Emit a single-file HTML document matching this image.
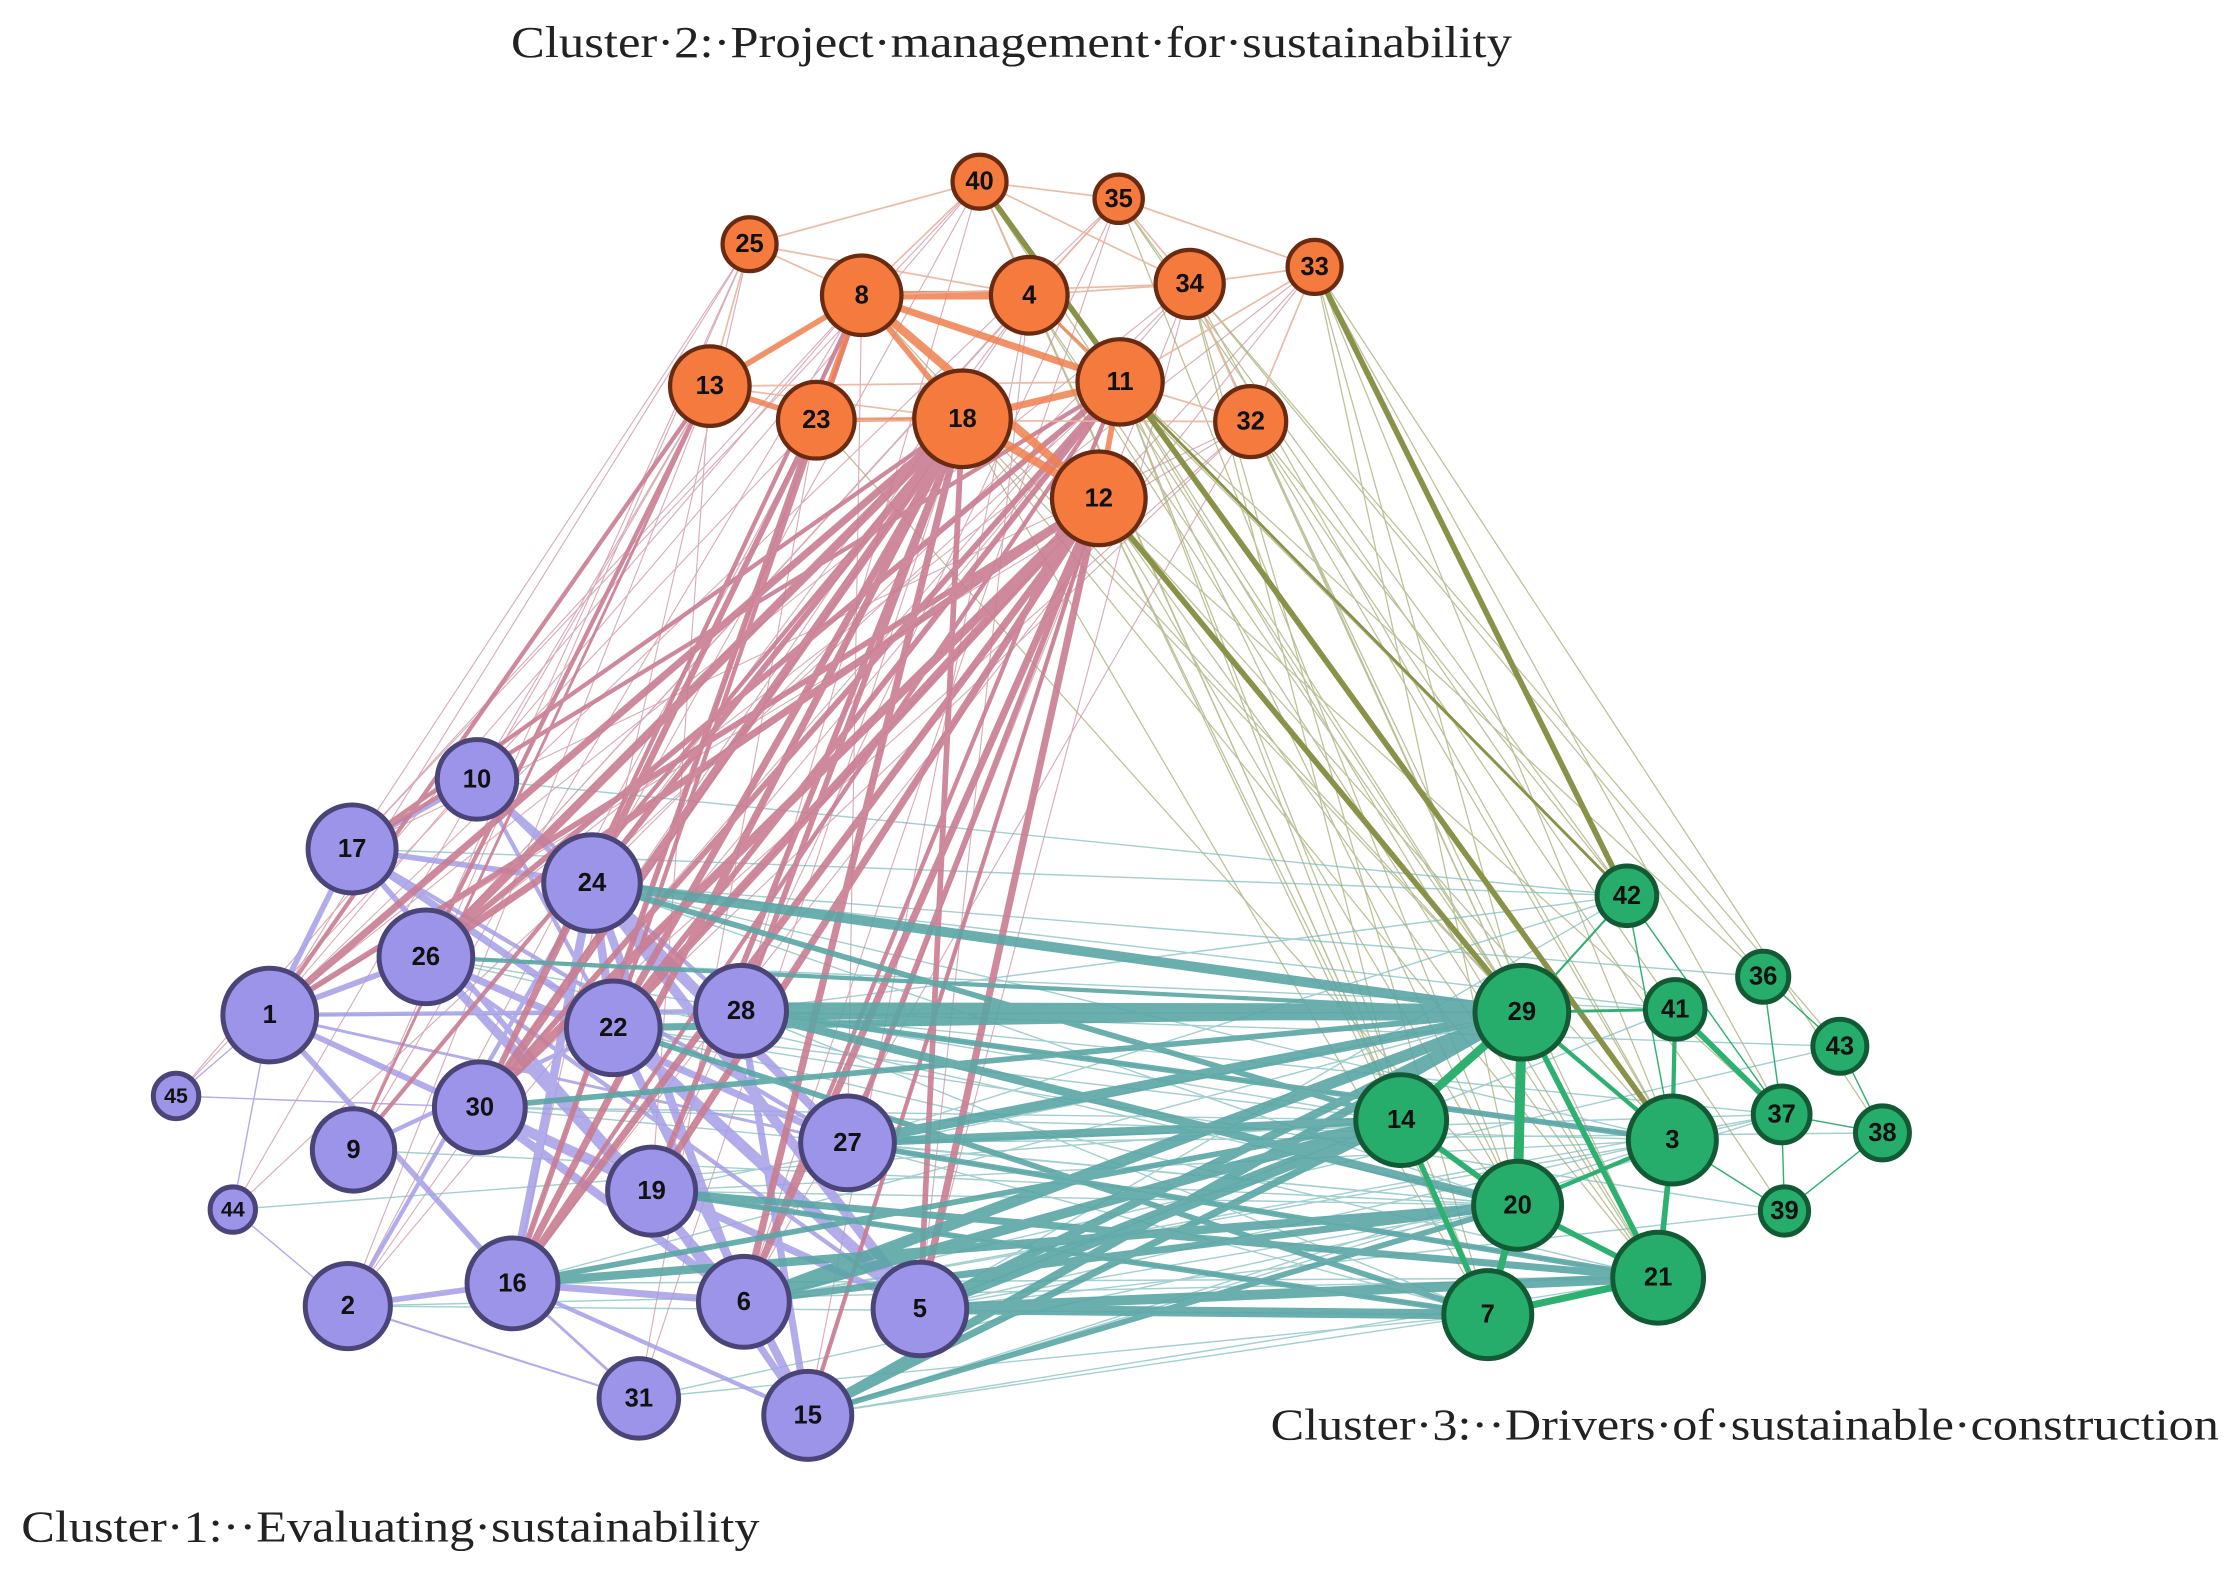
<!DOCTYPE html>
<html><head><meta charset="utf-8"><style>
html,body{margin:0;padding:0;background:#fff;}
svg{display:block;}
.t{font-family:"Liberation Serif",serif;fill:#222;}
.n{font-family:"Liberation Sans",sans-serif;font-weight:bold;font-size:18px;fill:#111;text-anchor:middle;dominant-baseline:central;}
</style></head><body>
<svg width="2226" height="1571" viewBox="0 0 1568 1106.6" preserveAspectRatio="none" xmlns="http://www.w3.org/2000/svg">
<rect width="1568" height="1107" fill="#fff"/>
<text class="t" x="360" y="40" font-size="31" textLength="705" lengthAdjust="spacingAndGlyphs">Cluster·2:·Project·management·for·sustainability</text>
<text class="t" x="895" y="1014" font-size="31" textLength="668" lengthAdjust="spacingAndGlyphs">Cluster·3:··Drivers·of·sustainable·construction</text>
<text class="t" x="15" y="1086" font-size="31" textLength="520" lengthAdjust="spacingAndGlyphs">Cluster·1:··Evaluating·sustainability</text>

<!-- thin pink edges orange->purple -->
<g stroke="#c98a9c" stroke-width="0.8" opacity="0.7">
<line x1="528" y1="172" x2="190" y2="715"/><line x1="528" y1="172" x2="248" y2="598"/><line x1="528" y1="172" x2="300" y2="674"/>
<line x1="500" y1="272" x2="245" y2="920"/><line x1="500" y1="272" x2="336" y2="549"/><line x1="690" y1="128" x2="190" y2="715"/>
<line x1="788" y1="140" x2="300" y2="674"/><line x1="725" y1="208" x2="338" y2="780"/><line x1="725" y1="208" x2="417" y2="622"/>
<line x1="607" y1="208" x2="248" y2="598"/><line x1="607" y1="208" x2="249" y2="810"/><line x1="838" y1="200" x2="190" y2="715"/>
<line x1="838" y1="200" x2="417" y2="622"/><line x1="926" y1="188" x2="300" y2="674"/><line x1="881" y1="297" x2="338" y2="780"/>
<line x1="881" y1="297" x2="432" y2="724"/><line x1="575" y1="296" x2="245" y2="920"/><line x1="575" y1="296" x2="450" y2="985"/>
<line x1="678" y1="295" x2="450" y2="985"/><line x1="774" y1="351" x2="569" y2="997"/><line x1="789" y1="269" x2="245" y2="920"/>
<line x1="690" y1="128" x2="417" y2="622"/><line x1="528" y1="172" x2="361" y2="904"/><line x1="500" y1="272" x2="164" y2="852"/>
<line x1="607" y1="208" x2="124" y2="772"/><line x1="725" y1="208" x2="648" y2="922"/><line x1="838" y1="200" x2="597" y2="805"/>
<line x1="881" y1="297" x2="524" y2="917"/><line x1="788" y1="140" x2="459" y2="839"/><line x1="926" y1="188" x2="361" y2="904"/>
<line x1="690" y1="128" x2="248" y2="598"/><line x1="788" y1="140" x2="190" y2="715"/><line x1="725" y1="208" x2="300" y2="674"/>
<line x1="838" y1="200" x2="338" y2="780"/><line x1="881" y1="297" x2="248" y2="598"/><line x1="926" y1="188" x2="432" y2="724"/>
<line x1="607" y1="208" x2="361" y2="904"/><line x1="528" y1="172" x2="249" y2="810"/><line x1="575" y1="296" x2="124" y2="772"/>
<line x1="678" y1="295" x2="245" y2="920"/><line x1="500" y1="272" x2="459" y2="839"/><line x1="690" y1="128" x2="522" y2="712"/>
<line x1="788" y1="140" x2="524" y2="917"/><line x1="725" y1="208" x2="569" y2="997"/><line x1="838" y1="200" x2="648" y2="922"/>
<line x1="607" y1="208" x2="597" y2="805"/><line x1="881" y1="297" x2="190" y2="715"/><line x1="789" y1="269" x2="164" y2="852"/>
</g>
<!-- thin olive edges orange->green -->
<g stroke="#a8ad78" stroke-width="0.9" opacity="0.75">
<line x1="789" y1="269" x2="1072" y2="713"/><line x1="789" y1="269" x2="987" y2="789"/><line x1="789" y1="269" x2="1069" y2="849"/>
<line x1="789" y1="269" x2="1168" y2="900"/><line x1="789" y1="269" x2="1048" y2="926"/><line x1="774" y1="351" x2="987" y2="789"/>
<line x1="774" y1="351" x2="1069" y2="849"/><line x1="774" y1="351" x2="1168" y2="900"/><line x1="774" y1="351" x2="1048" y2="926"/>
<line x1="774" y1="351" x2="1178" y2="803"/><line x1="838" y1="200" x2="1072" y2="713"/><line x1="838" y1="200" x2="1178" y2="803"/>
<line x1="838" y1="200" x2="1242" y2="688"/><line x1="881" y1="297" x2="1072" y2="713"/><line x1="881" y1="297" x2="1146" y2="631"/>
<line x1="881" y1="297" x2="1168" y2="900"/><line x1="926" y1="188" x2="1255" y2="785"/><line x1="926" y1="188" x2="1178" y2="803"/>
<line x1="678" y1="295" x2="1072" y2="713"/><line x1="678" y1="295" x2="1048" y2="926"/><line x1="678" y1="295" x2="1168" y2="900"/>
<line x1="725" y1="208" x2="1072" y2="713"/><line x1="725" y1="208" x2="1146" y2="631"/><line x1="725" y1="208" x2="987" y2="789"/>
<line x1="607" y1="208" x2="1072" y2="713"/><line x1="788" y1="140" x2="1146" y2="631"/><line x1="788" y1="140" x2="1180" y2="711"/>
<line x1="690" y1="128" x2="1072" y2="713"/><line x1="881" y1="297" x2="1257" y2="853"/><line x1="838" y1="200" x2="1296" y2="737"/>
<line x1="789" y1="269" x2="1242" y2="688"/><line x1="774" y1="351" x2="1255" y2="785"/><line x1="575" y1="296" x2="1069" y2="849"/>
<line x1="926" y1="188" x2="1072" y2="713"/><line x1="926" y1="188" x2="1069" y2="849"/><line x1="926" y1="188" x2="1326" y2="798"/>
<line x1="838" y1="200" x2="1048" y2="926"/><line x1="838" y1="200" x2="987" y2="789"/><line x1="881" y1="297" x2="1178" y2="803"/>
<line x1="788" y1="140" x2="1069" y2="849"/><line x1="725" y1="208" x2="1168" y2="900"/><line x1="690" y1="128" x2="1048" y2="926"/>
</g>
<!-- thin teal edges purple->green -->
<g stroke="#7cbcbc" stroke-width="1" opacity="0.7">
<line x1="336" y1="549" x2="1146" y2="631"/><line x1="248" y1="598" x2="1146" y2="631"/><line x1="417" y1="622" x2="1242" y2="688"/>
<line x1="190" y1="715" x2="1072" y2="713"/><line x1="300" y1="674" x2="1180" y2="711"/><line x1="338" y1="780" x2="1178" y2="803"/>
<line x1="249" y1="810" x2="1069" y2="849"/><line x1="164" y1="852" x2="987" y2="789"/><line x1="245" y1="920" x2="1168" y2="900"/>
<line x1="450" y1="985" x2="1048" y2="926"/><line x1="569" y1="997" x2="1168" y2="900"/><line x1="569" y1="997" x2="1178" y2="803"/>
<line x1="648" y1="922" x2="1255" y2="785"/><line x1="597" y1="805" x2="1326" y2="798"/><line x1="522" y1="712" x2="1296" y2="737"/>
<line x1="432" y1="724" x2="1257" y2="853"/><line x1="459" y1="839" x2="1178" y2="803"/><line x1="361" y1="904" x2="1168" y2="900"/>
<line x1="524" y1="917" x2="1255" y2="785"/><line x1="417" y1="622" x2="1180" y2="711"/><line x1="522" y1="712" x2="1146" y2="631"/>
<line x1="597" y1="805" x2="1146" y2="631"/><line x1="648" y1="922" x2="1180" y2="711"/><line x1="432" y1="724" x2="1168" y2="900"/>
<line x1="338" y1="780" x2="1069" y2="849"/><line x1="300" y1="674" x2="987" y2="789"/><line x1="569" y1="997" x2="1048" y2="926"/>
<line x1="450" y1="985" x2="1069" y2="849"/><line x1="648" y1="922" x2="1069" y2="849"/><line x1="524" y1="917" x2="1178" y2="803"/>
<line x1="597" y1="805" x2="1168" y2="900"/><line x1="597" y1="805" x2="1048" y2="926"/><line x1="522" y1="712" x2="1178" y2="803"/>
<line x1="417" y1="622" x2="1069" y2="849"/><line x1="459" y1="839" x2="1048" y2="926"/><line x1="648" y1="922" x2="1257" y2="853"/>
<line x1="522" y1="712" x2="1255" y2="785"/><line x1="597" y1="805" x2="1255" y2="785"/><line x1="524" y1="917" x2="1296" y2="737"/>
<line x1="459" y1="839" x2="1072" y2="713"/><line x1="361" y1="904" x2="1072" y2="713"/><line x1="432" y1="724" x2="987" y2="789"/>
<line x1="648" y1="922" x2="1146" y2="631"/><line x1="569" y1="997" x2="1255" y2="785"/><line x1="417" y1="622" x2="1178" y2="803"/>
<line x1="300" y1="674" x2="1069" y2="849"/><line x1="338" y1="780" x2="987" y2="789"/><line x1="245" y1="920" x2="1048" y2="926"/>
<line x1="522" y1="712" x2="1048" y2="926"/><line x1="597" y1="805" x2="1069" y2="849"/><line x1="459" y1="839" x2="1069" y2="849"/>
</g>
<!-- purple internal -->
<g stroke="#a59ee8" opacity="0.85">
<line x1="248" y1="598" x2="417" y2="622" stroke-width="4"/><line x1="248" y1="598" x2="190" y2="715" stroke-width="4"/>
<line x1="248" y1="598" x2="432" y2="724" stroke-width="5"/><line x1="336" y1="549" x2="432" y2="724" stroke-width="3"/>
<line x1="336" y1="549" x2="248" y2="598" stroke-width="3"/><line x1="417" y1="622" x2="648" y2="922" stroke-width="7"/>
<line x1="417" y1="622" x2="524" y2="917" stroke-width="6"/><line x1="300" y1="674" x2="597" y2="805" stroke-width="5"/>
<line x1="300" y1="674" x2="524" y2="917" stroke-width="5"/><line x1="190" y1="715" x2="522" y2="712" stroke-width="3"/>
<line x1="190" y1="715" x2="459" y2="839" stroke-width="4"/><line x1="190" y1="715" x2="361" y2="904" stroke-width="4"/>
<line x1="190" y1="715" x2="648" y2="922" stroke-width="3"/><line x1="432" y1="724" x2="648" y2="922" stroke-width="8"/>
<line x1="432" y1="724" x2="569" y2="997" stroke-width="6"/><line x1="338" y1="780" x2="524" y2="917" stroke-width="6"/>
<line x1="338" y1="780" x2="648" y2="922" stroke-width="5"/><line x1="361" y1="904" x2="524" y2="917" stroke-width="5"/>
<line x1="245" y1="920" x2="417" y2="622" stroke-width="3"/><line x1="245" y1="920" x2="361" y2="904" stroke-width="4"/>
<line x1="361" y1="904" x2="417" y2="622" stroke-width="6"/><line x1="417" y1="622" x2="597" y2="805" stroke-width="6"/>
<line x1="522" y1="712" x2="569" y2="997" stroke-width="5"/><line x1="459" y1="839" x2="569" y2="997" stroke-width="5"/>
<line x1="300" y1="674" x2="459" y2="839" stroke-width="5"/><line x1="249" y1="810" x2="432" y2="724" stroke-width="3"/>
<line x1="248" y1="598" x2="524" y2="917" stroke-width="4"/><line x1="336" y1="549" x2="597" y2="805" stroke-width="4"/>
<line x1="190" y1="715" x2="124" y2="772" stroke-width="1"/><line x1="190" y1="715" x2="164" y2="852" stroke-width="1"/>
<line x1="124" y1="772" x2="338" y2="780" stroke-width="1"/><line x1="164" y1="852" x2="245" y2="920" stroke-width="1"/>
<line x1="245" y1="920" x2="450" y2="985" stroke-width="1.5"/><line x1="450" y1="985" x2="361" y2="904" stroke-width="2"/>
<line x1="569" y1="997" x2="361" y2="904" stroke-width="3"/><line x1="190" y1="715" x2="300" y2="674" stroke-width="4"/>
<line x1="417" y1="622" x2="432" y2="724" stroke-width="6"/><line x1="338" y1="780" x2="459" y2="839" stroke-width="5"/>
<line x1="248" y1="598" x2="597" y2="805" stroke-width="3"/><line x1="336" y1="549" x2="522" y2="712" stroke-width="3"/>
<line x1="300" y1="674" x2="648" y2="922" stroke-width="3"/><line x1="190" y1="715" x2="597" y2="805" stroke-width="2"/>
</g>
<!-- thick pink -->
<g stroke="#c97d92" opacity="0.9">
<line x1="678" y1="295" x2="190" y2="715" stroke-width="5"/><line x1="678" y1="295" x2="300" y2="674" stroke-width="6"/>
<line x1="678" y1="295" x2="338" y2="780" stroke-width="6"/><line x1="678" y1="295" x2="432" y2="724" stroke-width="5"/>
<line x1="678" y1="295" x2="417" y2="622" stroke-width="4"/><line x1="678" y1="295" x2="361" y2="904" stroke-width="5"/>
<line x1="678" y1="295" x2="459" y2="839" stroke-width="4"/><line x1="678" y1="295" x2="524" y2="917" stroke-width="5"/>
<line x1="678" y1="295" x2="522" y2="712" stroke-width="4"/><line x1="774" y1="351" x2="190" y2="715" stroke-width="4"/>
<line x1="774" y1="351" x2="338" y2="780" stroke-width="6"/><line x1="774" y1="351" x2="432" y2="724" stroke-width="6"/>
<line x1="774" y1="351" x2="361" y2="904" stroke-width="5"/><line x1="774" y1="351" x2="524" y2="917" stroke-width="5"/>
<line x1="774" y1="351" x2="648" y2="922" stroke-width="5"/><line x1="774" y1="351" x2="597" y2="805" stroke-width="4"/>
<line x1="774" y1="351" x2="459" y2="839" stroke-width="5"/><line x1="789" y1="269" x2="300" y2="674" stroke-width="4"/>
<line x1="789" y1="269" x2="248" y2="598" stroke-width="3"/><line x1="789" y1="269" x2="338" y2="780" stroke-width="4"/>
<line x1="789" y1="269" x2="432" y2="724" stroke-width="4"/><line x1="575" y1="296" x2="361" y2="904" stroke-width="4"/>
<line x1="575" y1="296" x2="338" y2="780" stroke-width="4"/><line x1="500" y1="272" x2="190" y2="715" stroke-width="3"/>
<line x1="500" y1="272" x2="300" y2="674" stroke-width="3"/><line x1="607" y1="208" x2="338" y2="780" stroke-width="3"/>
<line x1="607" y1="208" x2="432" y2="724" stroke-width="3"/><line x1="678" y1="295" x2="248" y2="598" stroke-width="3"/>
<line x1="774" y1="351" x2="300" y2="674" stroke-width="5"/><line x1="789" y1="269" x2="361" y2="904" stroke-width="3"/>
<line x1="575" y1="296" x2="417" y2="622" stroke-width="3"/><line x1="500" y1="272" x2="249" y2="810" stroke-width="2"/>
<line x1="678" y1="295" x2="249" y2="810" stroke-width="3"/><line x1="774" y1="351" x2="569" y2="997" stroke-width="3"/>
<line x1="678" y1="295" x2="648" y2="922" stroke-width="4"/><line x1="789" y1="269" x2="524" y2="917" stroke-width="3"/>
</g>
<!-- thick teal -->
<g stroke="#5aa6a6" opacity="0.9">
<line x1="417" y1="622" x2="1072" y2="713" stroke-width="7"/><line x1="522" y1="712" x2="1072" y2="713" stroke-width="12"/>
<line x1="597" y1="805" x2="1072" y2="713" stroke-width="7"/><line x1="524" y1="917" x2="1072" y2="713" stroke-width="8"/>
<line x1="648" y1="922" x2="987" y2="789" stroke-width="9"/><line x1="569" y1="997" x2="1072" y2="713" stroke-width="6"/>
<line x1="361" y1="904" x2="1069" y2="849" stroke-width="6"/><line x1="648" y1="922" x2="1168" y2="900" stroke-width="7"/>
<line x1="524" y1="917" x2="987" y2="789" stroke-width="7"/><line x1="597" y1="805" x2="987" y2="789" stroke-width="6"/>
<line x1="432" y1="724" x2="1072" y2="713" stroke-width="5"/><line x1="522" y1="712" x2="1069" y2="849" stroke-width="6"/>
<line x1="459" y1="839" x2="1168" y2="900" stroke-width="5"/><line x1="648" y1="922" x2="1048" y2="926" stroke-width="7"/>
<line x1="569" y1="997" x2="987" y2="789" stroke-width="5"/><line x1="522" y1="712" x2="1178" y2="803" stroke-width="4"/>
<line x1="417" y1="622" x2="987" y2="789" stroke-width="4"/><line x1="338" y1="780" x2="1072" y2="713" stroke-width="4"/>
<line x1="524" y1="917" x2="1069" y2="849" stroke-width="5"/><line x1="597" y1="805" x2="1168" y2="900" stroke-width="4"/>
<line x1="648" y1="922" x2="1072" y2="713" stroke-width="6"/><line x1="459" y1="839" x2="1048" y2="926" stroke-width="4"/>
<line x1="569" y1="997" x2="1069" y2="849" stroke-width="4"/><line x1="361" y1="904" x2="987" y2="789" stroke-width="4"/>
<line x1="300" y1="674" x2="1072" y2="713" stroke-width="3"/><line x1="432" y1="724" x2="1048" y2="926" stroke-width="4"/>
</g>
<!-- orange internal -->
<g stroke="#f08050" opacity="0.85">
<line x1="607" y1="208" x2="725" y2="208" stroke-width="6"/><line x1="607" y1="208" x2="789" y2="269" stroke-width="5"/>
<line x1="607" y1="208" x2="500" y2="272" stroke-width="4"/><line x1="607" y1="208" x2="575" y2="296" stroke-width="4"/>
<line x1="607" y1="208" x2="678" y2="295" stroke-width="4"/><line x1="607" y1="208" x2="774" y2="351" stroke-width="6"/>
<line x1="678" y1="295" x2="789" y2="269" stroke-width="5"/><line x1="678" y1="295" x2="774" y2="351" stroke-width="6"/>
<line x1="789" y1="269" x2="774" y2="351" stroke-width="4"/><line x1="500" y1="272" x2="575" y2="296" stroke-width="4"/>
<line x1="575" y1="296" x2="678" y2="295" stroke-width="3"/><line x1="725" y1="208" x2="789" y2="269" stroke-width="2"/>
</g>
<g stroke="#eab49c" stroke-width="1.2" opacity="0.9">
<line x1="528" y1="172" x2="607" y2="208"/><line x1="528" y1="172" x2="690" y2="128"/>
<line x1="690" y1="128" x2="788" y2="140"/><line x1="788" y1="140" x2="926" y2="188"/>
<line x1="838" y1="200" x2="926" y2="188"/><line x1="725" y1="208" x2="838" y2="200"/>
<line x1="789" y1="269" x2="881" y2="297"/><line x1="838" y1="200" x2="881" y2="297"/>
<line x1="690" y1="128" x2="607" y2="208"/><line x1="500" y1="272" x2="789" y2="269"/>
<line x1="575" y1="296" x2="881" y2="297"/><line x1="528" y1="172" x2="500" y2="272"/>
<line x1="690" y1="128" x2="725" y2="208"/><line x1="788" y1="140" x2="725" y2="208"/><line x1="788" y1="140" x2="838" y2="200"/>
<line x1="528" y1="172" x2="725" y2="208"/><line x1="690" y1="128" x2="838" y2="200"/><line x1="926" y1="188" x2="881" y2="297"/>
<line x1="926" y1="188" x2="789" y2="269"/><line x1="607" y1="208" x2="838" y2="200"/><line x1="500" y1="272" x2="678" y2="295"/>
</g>
<!-- thick olive -->
<g stroke="#8a9148">
<line x1="690" y1="128" x2="1178" y2="803" stroke-width="4"/><line x1="774" y1="351" x2="1072" y2="713" stroke-width="4"/>
<line x1="926" y1="188" x2="1146" y2="631" stroke-width="4"/><line x1="789" y1="269" x2="1146" y2="631" stroke-width="2"/>
</g>
<!-- green internal -->
<g stroke="#2eb070">
<line x1="1072" y1="713" x2="987" y2="789" stroke-width="6"/><line x1="1072" y1="713" x2="1069" y2="849" stroke-width="7"/>
<line x1="1072" y1="713" x2="1168" y2="900" stroke-width="4"/><line x1="1072" y1="713" x2="1178" y2="803" stroke-width="3"/>
<line x1="987" y1="789" x2="1069" y2="849" stroke-width="4"/><line x1="987" y1="789" x2="1048" y2="926" stroke-width="4"/>
<line x1="1069" y1="849" x2="1168" y2="900" stroke-width="4"/><line x1="1069" y1="849" x2="1048" y2="926" stroke-width="5"/>
<line x1="1178" y1="803" x2="1168" y2="900" stroke-width="4"/><line x1="1048" y1="926" x2="1168" y2="900" stroke-width="5"/>
<line x1="1180" y1="711" x2="1178" y2="803" stroke-width="3"/><line x1="1180" y1="711" x2="1255" y2="785" stroke-width="4"/>
<line x1="1069" y1="849" x2="1178" y2="803" stroke-width="3"/><line x1="1072" y1="713" x2="1180" y2="711" stroke-width="2"/>
<line x1="1146" y1="631" x2="1072" y2="713" stroke-width="1.5"/><line x1="1242" y1="688" x2="1296" y2="737" stroke-width="1"/>
<line x1="1255" y1="785" x2="1326" y2="798" stroke-width="1"/><line x1="1257" y1="853" x2="1326" y2="798" stroke-width="1"/>
<line x1="1296" y1="737" x2="1326" y2="798" stroke-width="1"/><line x1="1255" y1="785" x2="1257" y2="853" stroke-width="1"/>
<line x1="1146" y1="631" x2="1255" y2="785" stroke-width="1"/><line x1="1146" y1="631" x2="1178" y2="803" stroke-width="1"/>
<line x1="1242" y1="688" x2="1255" y2="785" stroke-width="1"/><line x1="1178" y1="803" x2="1257" y2="853" stroke-width="1"/>
</g>

<!-- orange nodes -->
<g fill="#f47a3e" stroke="#6a2a10" stroke-width="3">
<circle cx="690" cy="128" r="19"/><circle cx="788" cy="140" r="17"/><circle cx="528" cy="172" r="19"/>
<circle cx="926" cy="188" r="19"/><circle cx="607" cy="208" r="28"/><circle cx="725" cy="208" r="27"/>
<circle cx="838" cy="200" r="24"/><circle cx="500" cy="272" r="28"/><circle cx="575" cy="296" r="27"/>
<circle cx="678" cy="295" r="34"/><circle cx="789" cy="269" r="30"/><circle cx="881" cy="297" r="25"/>
<circle cx="774" cy="351" r="33"/>
</g>
<!-- purple nodes -->
<g fill="#9b94e8" stroke="#4a4478" stroke-width="3.5">
<circle cx="336" cy="549" r="28"/><circle cx="248" cy="598" r="31"/><circle cx="417" cy="622" r="34"/>
<circle cx="300" cy="674" r="33"/><circle cx="190" cy="715" r="33"/><circle cx="432" cy="724" r="33"/>
<circle cx="522" cy="712" r="32"/><circle cx="124" cy="772" r="16"/><circle cx="338" cy="780" r="32"/>
<circle cx="249" cy="810" r="29"/><circle cx="597" cy="805" r="33"/><circle cx="459" cy="839" r="31"/>
<circle cx="164" cy="852" r="16"/><circle cx="361" cy="904" r="32"/><circle cx="245" cy="920" r="30"/>
<circle cx="524" cy="917" r="32"/><circle cx="648" cy="922" r="33"/><circle cx="450" cy="985" r="28"/>
<circle cx="569" cy="997" r="31"/>
</g>
<!-- green nodes -->
<g fill="#27ad6b" stroke="#125a34" stroke-width="3.5">
<circle cx="1146" cy="631" r="21"/><circle cx="1242" cy="688" r="18"/><circle cx="1072" cy="713" r="33"/>
<circle cx="1180" cy="711" r="21"/><circle cx="1296" cy="737" r="19"/><circle cx="987" cy="789" r="32"/>
<circle cx="1178" cy="803" r="31"/><circle cx="1255" cy="785" r="20"/><circle cx="1326" cy="798" r="19"/>
<circle cx="1069" cy="849" r="31"/><circle cx="1257" cy="853" r="17"/><circle cx="1168" cy="900" r="32"/>
<circle cx="1048" cy="926" r="31"/>
</g>
<!-- labels -->
<g class="n">
<text x="690" y="128">40</text><text x="788" y="140">35</text><text x="528" y="172">25</text><text x="926" y="188">33</text>
<text x="607" y="208">8</text><text x="725" y="208">4</text><text x="838" y="200">34</text><text x="500" y="272">13</text>
<text x="575" y="296">23</text><text x="678" y="295">18</text><text x="789" y="269">11</text><text x="881" y="297">32</text>
<text x="774" y="351">12</text>
<text x="336" y="549">10</text><text x="248" y="598">17</text><text x="417" y="622">24</text><text x="300" y="674">26</text>
<text x="190" y="715">1</text><text x="432" y="724">22</text><text x="522" y="712">28</text><text x="124" y="772" font-size="15">45</text>
<text x="338" y="780">30</text><text x="249" y="810">9</text><text x="597" y="805">27</text><text x="459" y="839">19</text>
<text x="164" y="852" font-size="15">44</text><text x="361" y="904">16</text><text x="245" y="920">2</text><text x="524" y="917">6</text>
<text x="648" y="922">5</text><text x="450" y="985">31</text><text x="569" y="997">15</text>
<text x="1146" y="631">42</text><text x="1242" y="688">36</text><text x="1072" y="713">29</text><text x="1180" y="711">41</text>
<text x="1296" y="737">43</text><text x="987" y="789">14</text><text x="1178" y="803">3</text><text x="1255" y="785">37</text>
<text x="1326" y="798">38</text><text x="1069" y="849">20</text><text x="1257" y="853">39</text><text x="1168" y="900">21</text>
<text x="1048" y="926">7</text>
</g>
</svg>
</body></html>
